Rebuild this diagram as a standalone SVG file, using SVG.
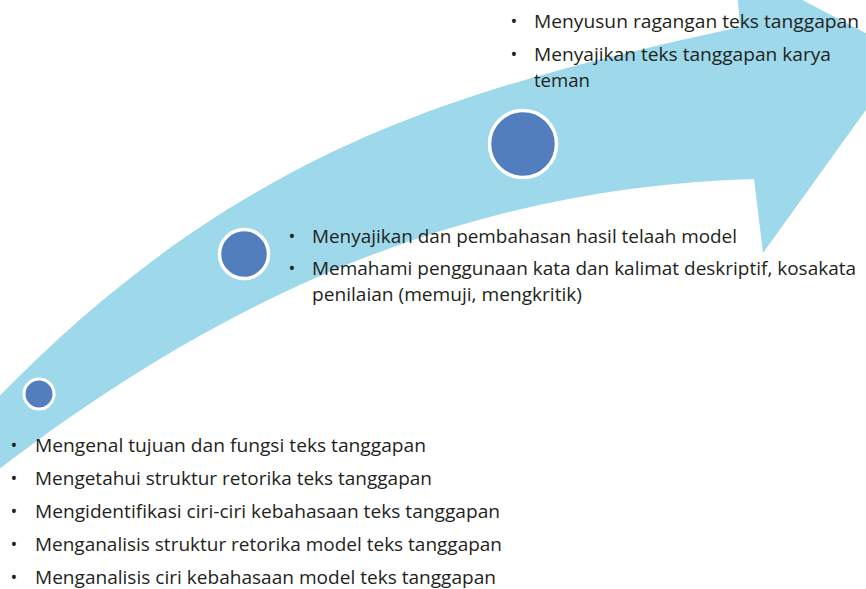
<svg xmlns="http://www.w3.org/2000/svg" width="866" height="589" viewBox="0 0 866 589">
<style>
.t{font-family:"Open Sans","Liberation Sans",sans-serif;font-size:19px;fill:#231f20}
.b{font-family:"Open Sans","Liberation Sans",sans-serif;font-size:18px;fill:#231f20;text-anchor:middle}
.dot{fill:#527ebd;stroke:#ffffff}
</style>
<rect width="866" height="589" fill="#ffffff"/>
<g id="arrow">
<path d="M -30,427 C 230,146.6 460,88.6 740,27 L 735,-35 L 906,54 L 763,253 L 754,179 C 504,186.5 250,268 -30,492 Z" fill="#9dd8eb"/>
</g>
<g id="step1">
<circle class="dot" cx="39" cy="394" r="15" stroke-width="3"/>
<text class="b" x="14" y="452">•</text><text class="t" x="35" y="452" textLength="391" lengthAdjust="spacingAndGlyphs">Mengenal tujuan dan fungsi teks tanggapan</text>
<text class="b" x="14" y="485">•</text><text class="t" x="35" y="485" textLength="397" lengthAdjust="spacingAndGlyphs">Mengetahui struktur retorika teks tanggapan</text>
<text class="b" x="14" y="518">•</text><text class="t" x="35" y="518" textLength="465" lengthAdjust="spacingAndGlyphs">Mengidentifikasi ciri-ciri kebahasaan teks tanggapan</text>
<text class="b" x="14" y="551">•</text><text class="t" x="35" y="551" textLength="467" lengthAdjust="spacingAndGlyphs">Menganalisis struktur retorika model teks tanggapan</text>
<text class="b" x="14" y="584">•</text><text class="t" x="35" y="584" textLength="461" lengthAdjust="spacingAndGlyphs">Menganalisis ciri kebahasaan model teks tanggapan</text>
</g>
<g id="step2">
<circle class="dot" cx="244" cy="254" r="24.5" stroke-width="3.5"/>
<text class="b" x="292" y="243">•</text><text class="t" x="312" y="243" textLength="425" lengthAdjust="spacingAndGlyphs">Menyajikan dan pembahasan hasil telaah model</text>
<text class="b" x="292" y="275">•</text><text class="t" x="312" y="275" textLength="544" lengthAdjust="spacingAndGlyphs">Memahami penggunaan kata dan kalimat deskriptif, kosakata</text>
<text class="t" x="312" y="301" textLength="270" lengthAdjust="spacingAndGlyphs">penilaian (memuji, mengkritik)</text>
</g>
<g id="step3">
<circle class="dot" cx="523" cy="144" r="33.5" stroke-width="3.5"/>
<text class="b" x="514" y="28">•</text><text class="t" x="534" y="28" textLength="325" lengthAdjust="spacingAndGlyphs">Menyusun ragangan teks tanggapan</text>
<text class="b" x="514" y="61">•</text><text class="t" x="534" y="61" textLength="297" lengthAdjust="spacingAndGlyphs">Menyajikan teks tanggapan karya</text>
<text class="t" x="534" y="87" textLength="56" lengthAdjust="spacingAndGlyphs">teman</text>
</g>
<g id="connectors"></g>
</svg>
